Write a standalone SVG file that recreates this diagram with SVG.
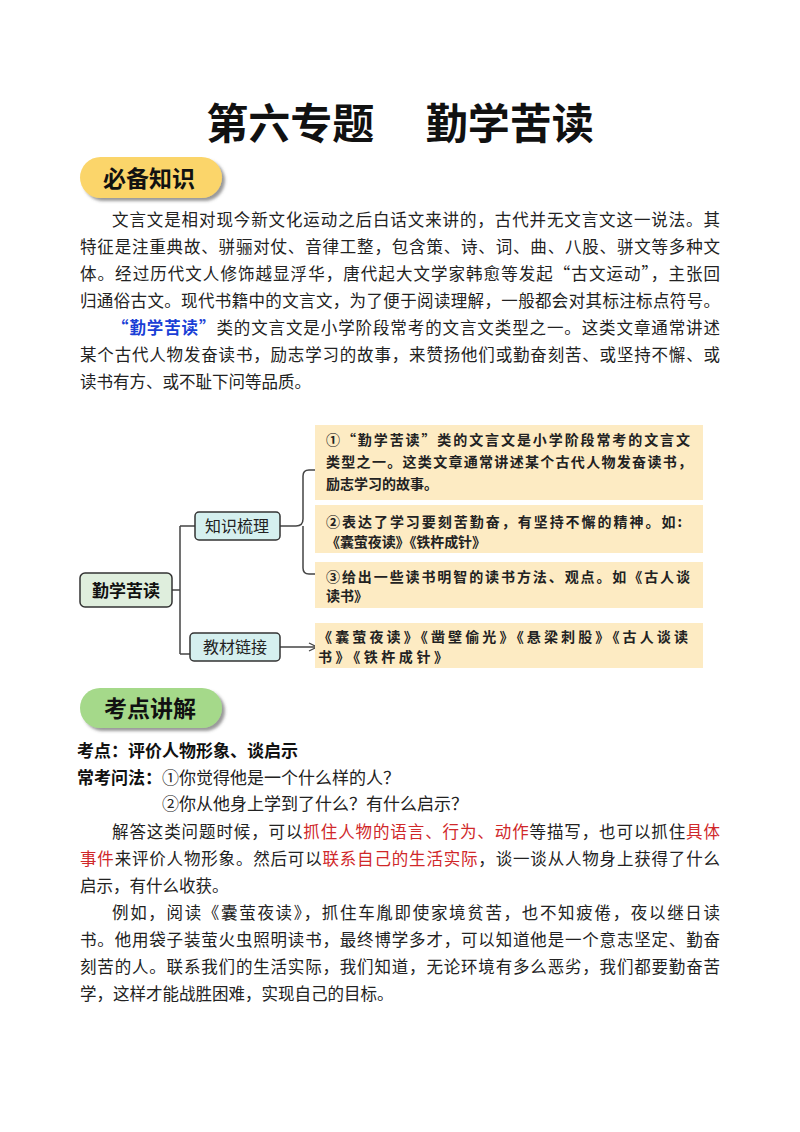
<svg xmlns="http://www.w3.org/2000/svg" width="800" height="1132" viewBox="0 0 800 1132">
<style>
text{font-family:"Noto Sans CJK SC","Noto Sans",sans-serif;fill:#222}
.b{font-size:16.5px}
.r{fill:#d0282a}
.h{font-size:17px;font-weight:bold;fill:#111}
.m{font-size:14px;font-weight:bold;fill:#222}
.ybox{fill:#fdebc3}
.node{stroke:#333;stroke-width:1.5}
.ln{fill:none;stroke:#444;stroke-width:1.5}
</style>
<defs>
<filter id="sh" x="-10%" y="-20%" width="125%" height="150%"><feDropShadow dx="3" dy="3" stdDeviation="1.5" flood-color="#555" flood-opacity="0.6"/></filter>
<marker id="ar" markerWidth="10" markerHeight="10" refX="9" refY="5" orient="auto" markerUnits="userSpaceOnUse"><path d="M1,1 L9,5 L1,9" fill="none" stroke="#444" stroke-width="1.3"/></marker>
</defs>
<text x="400" y="139" text-anchor="middle" font-size="42" font-weight="bold" style="fill:#111">第六专题　 勤学苦读</text>
<g id="sec1"><rect x="80" y="157" width="142" height="41" rx="20.5" fill="#fbd56a" filter="url(#sh)"/><text x="149" y="187" text-anchor="middle" font-size="23" font-weight="bold" style="fill:#111">必备知识</text></g>
<g class="b">
<text x="112" y="226" textLength="608" lengthAdjust="spacing">文言文是相对现今新文化运动之后白话文来讲的，古代并无文言文这一说法。其</text>
<text x="80" y="253" textLength="640" lengthAdjust="spacing">特征是注重典故、骈骊对仗、音律工整，包含策、诗、词、曲、八股、骈文等多种文</text>
<text x="80" y="280" textLength="640" lengthAdjust="spacing">体。经过历代文人修饰越显浮华，唐代起大文学家韩愈等发起“古文运动”，主张回</text>
<text x="80" y="307" textLength="640" lengthAdjust="spacing">归通俗古文。现代书籍中的文言文，为了便于阅读理解，一般都会对其标注标点符号。</text>
<text x="112" y="334" textLength="608" lengthAdjust="spacing"><tspan style="fill:#1a3fd6;font-weight:bold">“勤学苦读”</tspan>类的文言文是小学阶段常考的文言文类型之一。这类文章通常讲述</text>
<text x="80" y="361" textLength="640" lengthAdjust="spacing">某个古代人物发奋读书，励志学习的故事，来赞扬他们或勤奋刻苦、或坚持不懈、或</text>
<text x="80" y="388">读书有方、或不耻下问等品质。</text>
</g>
<g id="connectors">
<path class="ln" d="M172,590 H180 M180,526 V654 M180,526 H195 M180,654 H190"/>
<path class="ln" d="M280,526 H296 Q303,526 303,519 V476 Q303,470 309,470 H315 M303,526 V568 Q303,574 309,574 H315"/>
<path class="ln" d="M280,647 H317" marker-end="url(#ar)"/>
</g>
<g id="root"><rect class="node" x="80" y="573" width="92" height="34" rx="5" fill="#dfeedd"/><text x="126" y="597" text-anchor="middle" font-size="17" font-weight="bold" style="fill:#111">勤学苦读</text></g>
<g id="n1"><rect class="node" x="195" y="512" width="85" height="28" rx="4" fill="#d5f0ef"/><text x="237" y="532" text-anchor="middle" font-size="16">知识梳理</text></g>
<g id="n2"><rect class="node" x="190" y="633" width="90" height="28" rx="4" fill="#d5f0ef"/><text x="235" y="653" text-anchor="middle" font-size="16">教材链接</text></g>
<g id="y1"><rect class="ybox" x="315" y="425" width="388" height="75"/><text class="m" x="326" y="445" textLength="364" lengthAdjust="spacing">①“勤学苦读”类的文言文是小学阶段常考的文言文</text><text class="m" x="326" y="467" textLength="366" lengthAdjust="spacing">类型之一。这类文章通常讲述某个古代人物发奋读书，</text><text class="m" x="326" y="489">励志学习的故事。</text></g>
<g id="y2"><rect class="ybox" x="315" y="505" width="388" height="48"/><text class="m" x="326" y="527" textLength="356" lengthAdjust="spacing">②表达了学习要刻苦勤奋，有坚持不懈的精神。如:</text><text class="m" x="326" y="547" textLength="160" lengthAdjust="spacing">《囊萤夜读》《铁杵成针》</text></g>
<g id="y3"><rect class="ybox" x="315" y="562" width="388" height="46"/><text class="m" x="326" y="582" textLength="364" lengthAdjust="spacing">③给出一些读书明智的读书方法、观点。如《古人谈</text><text class="m" x="326" y="601">读书》</text></g>
<g id="y4"><rect class="ybox" x="315" y="623" width="388" height="45"/><text class="m" x="318" y="642" textLength="370" lengthAdjust="spacing">《囊萤夜读》《凿壁偷光》《悬梁刺股》《古人谈读</text><text class="m" x="318" y="662" textLength="130" lengthAdjust="spacing">书》《铁杵成针》</text></g>
<g id="sec2"><rect x="80" y="688" width="142" height="40" rx="20" fill="#a5d98a" filter="url(#sh)"/><text x="150" y="717" text-anchor="middle" font-size="23" font-weight="bold" style="fill:#111">考点讲解</text></g>
<text class="h" x="77" y="757">考点：评价人物形象、谈启示</text>
<text x="77" y="784" font-size="17"><tspan font-weight="bold" style="fill:#111">常考问法：</tspan>①你觉得他是一个什么样的人？</text>
<text x="162" y="810" font-size="17">②你从他身上学到了什么？有什么启示？</text>
<g class="b">
<text x="112" y="838" textLength="608" lengthAdjust="spacing">解答这类问题时候，可以<tspan class="r">抓住人物的语言、行为、动作</tspan>等描写，也可以抓住<tspan class="r">具体</tspan></text>
<text x="80" y="865" textLength="640" lengthAdjust="spacing"><tspan class="r">事件</tspan>来评价人物形象。然后可以<tspan class="r">联系自己的生活实际</tspan>，谈一谈从人物身上获得了什么</text>
<text x="80" y="892">启示，有什么收获。</text>
<text x="112" y="919" textLength="608" lengthAdjust="spacing">例如，阅读《囊萤夜读》，抓住车胤即使家境贫苦，也不知疲倦，夜以继日读</text>
<text x="80" y="946" textLength="640" lengthAdjust="spacing">书。他用袋子装萤火虫照明读书，最终博学多才，可以知道他是一个意志坚定、勤奋</text>
<text x="80" y="973" textLength="640" lengthAdjust="spacing">刻苦的人。联系我们的生活实际，我们知道，无论环境有多么恶劣，我们都要勤奋苦</text>
<text x="80" y="1000">学，这样才能战胜困难，实现自己的目标。</text>
</g>
</svg>
